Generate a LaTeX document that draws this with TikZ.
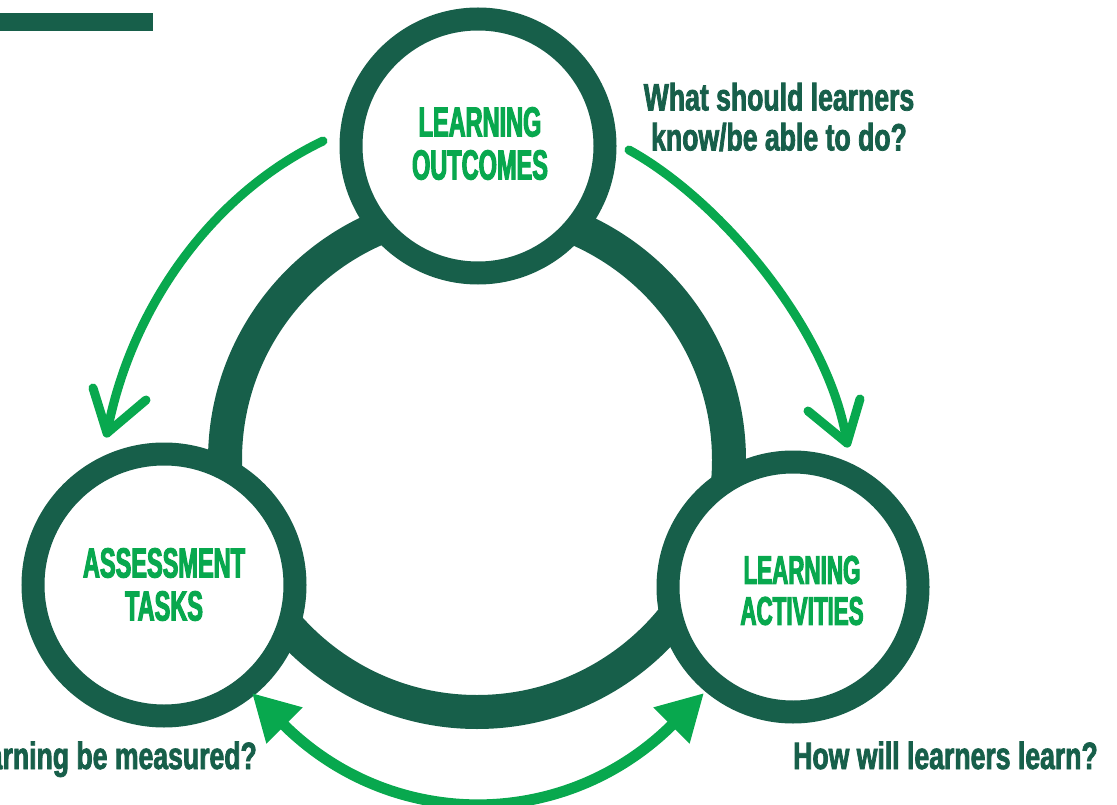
\documentclass[tikz,border=0pt]{standalone}
\usepackage{fontspec}
\setmainfont{Liberation Sans}
\newfontfamily\titlefont[FakeStretch=0.56,FakeBold=2.5]{Liberation Sans}
\newfontfamily\qfont[FakeStretch=0.70,FakeBold=2]{Liberation Sans}
\usetikzlibrary{arrows.meta}
\definecolor{dkgreen}{RGB}{23,95,74}
\definecolor{brgreen}{RGB}{8,168,78}
\begin{document}
\begin{tikzpicture}[x=1pt,y=-1pt,
  stagecircle/.style={circle, draw=dkgreen, fill=white, inner sep=0pt, line width=23pt},
  titletext/.style={text=brgreen, font=\titlefont\bfseries\fontsize{42}{43}\selectfont, align=center, inner sep=0pt},
  qtext/.style={text=dkgreen, font=\qfont\bfseries\fontsize{38}{40}\selectfont, align=center, inner sep=0pt},
  curvearrow/.style={draw=brgreen, line width=9pt, line cap=round, line join=round},
  botharrow/.style={draw=brgreen, line width=11pt, {Triangle[length=46pt,width=48pt]}-{Triangle[length=46pt,width=48pt]}},
]
\useasboundingbox (0,0) rectangle (1117,805);
\clip (0,0) rectangle (1117,805);

% top-left bar
\fill[dkgreen] (0,13) rectangle (153,31);

% big cycle ring
\node[circle, draw=dkgreen, line width=34pt, inner sep=0pt, minimum size=504pt] (cycle) at (477,460) {};

% stage circles
\node[stagecircle, minimum size=254pt] (outcomes) at (478,146) {};
\node[stagecircle, minimum size=262pt] (assess) at (164,585) {};
\node[stagecircle, minimum size=250pt] (activities) at (793,587) {};

% titles
\node[titletext] (toutcomes) at (480,143.5) {LEARNING\\OUTCOMES};
\node[titletext] (tassess) at (164,584.5) {ASSESSMENT\\TASKS};
\node[titletext, font=\titlefont\bfseries\fontsize{40}{41}\selectfont] (tactivities) at (802,590.5) {LEARNING\\ACTIVITIES};

% questions
\node[qtext] (qoutcomes) at (779,117) {What should learners\\know/be able to do?};
\node[qtext, anchor=base] (qactivities) at (945.5,769) {How will learners learn?};
\node[qtext, anchor=base east] (qassess) at (257,769) {How will learning be measured?};

% top-left arrow (outcomes -> assessment)
\coordinate (a1s) at (323,141);
\coordinate (a1t) at (107,433);
\coordinate (a1l) at (93,388);
\coordinate (a1r) at (146,400);
\draw[curvearrow] (a1s) .. controls (210,195) and (130,310) .. (a1t);
\draw[curvearrow] (a1l) -- (a1t) -- (a1r);

% top-right arrow (outcomes -> activities)
\coordinate (a2s) at (629,150);
\coordinate (a2t) at (847,443);
\coordinate (a2l) at (808,411);
\coordinate (a2r) at (860,399);
\draw[curvearrow] (a2s) .. controls (720,200) and (830,330) .. (a2t);
\draw[curvearrow] (a2l) -- (a2t) -- (a2r);

% bottom double arrow (assessment <-> activities)
\coordinate (b1) at (252,693);
\coordinate (b2) at (704,693);
\draw[botharrow] (b1) .. controls (391,832) and (565,832) .. (b2);
\end{tikzpicture}
\end{document}
